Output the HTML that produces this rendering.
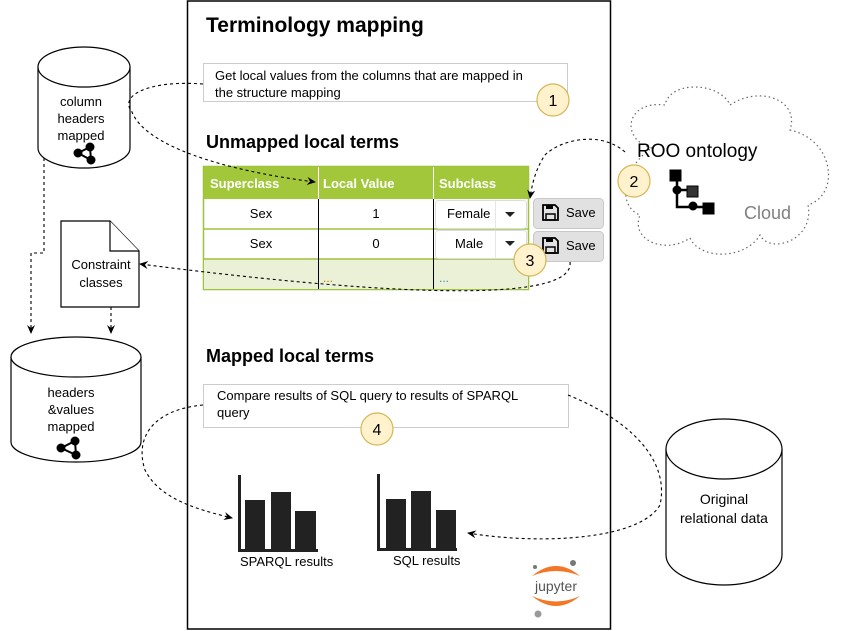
<!DOCTYPE html>
<html><head><meta charset="utf-8"><style>
html,body{margin:0;padding:0;background:#fff;}
svg{display:block;font-family:"Liberation Sans",Arial,sans-serif;}
</style></head><body>
<svg width="844" height="631" viewBox="0 0 844 631" xmlns="http://www.w3.org/2000/svg">
<defs>
<marker id="ar" markerWidth="10" markerHeight="10" refX="8" refY="5" orient="auto" markerUnits="userSpaceOnUse"><path d="M0,1 L9,5 L0,9 L3,5 Z" fill="#000"/></marker>
</defs>
<rect x="187.5" y="1" width="423" height="628" fill="#fff" stroke="#000" stroke-width="1.5"/>
<text x="206" y="32" font-size="21" font-weight="bold">Terminology mapping</text>
<rect x="203.5" y="63.5" width="364" height="38" fill="#fff" stroke="#ccc"/>
<text x="215" y="80" font-size="13">Get local values from the columns that are mapped in</text>
<text x="215" y="97" font-size="13">the structure mapping</text>
<text x="206" y="148" font-size="18" font-weight="bold">Unmapped local terms</text>
<rect x="203.5" y="166.5" width="325" height="123" fill="#fff" stroke="#9dc33b" stroke-width="1.5"/>
<rect x="204" y="167" width="324" height="32" fill="#a2c73b"/>
<rect x="204" y="259" width="324" height="30" fill="#ebf1d7"/>
<line x1="204" y1="229" x2="528" y2="229" stroke="#9dc33b" stroke-width="1.5"/>
<line x1="204" y1="259" x2="528" y2="259" stroke="#9dc33b" stroke-width="1.5"/>
<line x1="318.5" y1="199" x2="318.5" y2="289" stroke="#000"/>
<line x1="433.5" y1="199" x2="433.5" y2="289" stroke="#000"/>
<line x1="318.5" y1="167" x2="318.5" y2="199" stroke="#fff"/>
<line x1="433.5" y1="167" x2="433.5" y2="199" stroke="#fff"/>
<text x="210" y="188" font-size="13" font-weight="bold" fill="#fff">Superclass</text>
<text x="323" y="188" font-size="13" font-weight="bold" fill="#fff">Local Value</text>
<text x="439" y="188" font-size="13" font-weight="bold" fill="#fff">Subclass</text>
<text x="261" y="218" font-size="13" text-anchor="middle">Sex</text>
<text x="376" y="218" font-size="13" text-anchor="middle">1</text>
<text x="261" y="248" font-size="13" text-anchor="middle">Sex</text>
<text x="376" y="248" font-size="13" text-anchor="middle">0</text>
<text x="323" y="282" font-size="12" fill="#c08000">...</text>
<text x="439" y="282" font-size="12" fill="#3a8fb0">...</text>
<rect x="435.5" y="200.5" width="91" height="28" rx="3" fill="#fff" stroke="#ddd"/>
<line x1="495.5" y1="201" x2="495.5" y2="228" stroke="#e6e6e6"/>
<text x="447" y="218" font-size="13">Female</text>
<path d="M505,212 L515,212 L510,217 Z" fill="#222"/>
<rect x="435.5" y="230.5" width="91" height="28" rx="3" fill="#fff" stroke="#ddd"/>
<line x1="495.5" y1="231" x2="495.5" y2="258" stroke="#e6e6e6"/>
<text x="455" y="248" font-size="13">Male</text>
<path d="M505,241 L515,241 L510,246 Z" fill="#222"/>
<g>
<rect x="533.5" y="198.5" width="70" height="30" rx="4" fill="#e1e1e1" stroke="#c8c8c8"/>
<path d="M543,205 h12 l3,3 v12 h-15 Z" fill="none" stroke="#000" stroke-width="1.8"/>
<rect x="546" y="205" width="7" height="4" fill="#000"/><rect x="546" y="214" width="9" height="6" fill="none" stroke="#000" stroke-width="1.5"/>
<text x="566" y="217" font-size="13">Save</text>
<rect x="533.5" y="231.5" width="70" height="30" rx="4" fill="#e1e1e1" stroke="#c8c8c8"/>
<path d="M543,238 h12 l3,3 v12 h-15 Z" fill="none" stroke="#000" stroke-width="1.8"/>
<rect x="546" y="238" width="7" height="4" fill="#000"/><rect x="546" y="247" width="9" height="6" fill="none" stroke="#000" stroke-width="1.5"/>
<text x="566" y="250" font-size="13">Save</text>
</g>
<text x="206" y="362" font-size="18" font-weight="bold">Mapped local terms</text>
<rect x="203.5" y="384.5" width="365" height="43" fill="#fff" stroke="#ccc"/>
<text x="217" y="400" font-size="13">Compare results of SQL query to results of SPARQL</text>
<text x="217" y="417" font-size="13">query</text>
<g fill="#222">
<rect x="238" y="475" width="3" height="77"/>
<rect x="245" y="500" width="20" height="49"/><rect x="271" y="492" width="20" height="57"/><rect x="295" y="511" width="21" height="38"/>
<rect x="377" y="474" width="3" height="77"/><rect x="377" y="548" width="80" height="3"/>
<rect x="386" y="499" width="20" height="49"/><rect x="411" y="491" width="20" height="57"/><rect x="436" y="510" width="20" height="38"/>
<rect x="238" y="549" width="80" height="3"/>
</g>
<text x="240" y="566" font-size="13">SPARQL results</text>
<text x="393" y="565" font-size="13">SQL results</text>
<g>
<path d="M532,576 Q556,556 580,576 Q556,566 532,576 Z" fill="#f37726"/>
<path d="M532,596 Q556,616 580,596 Q556,607 532,596 Z" fill="#f37726"/>
<text x="556" y="591" font-size="14" text-anchor="middle" fill="#555">jupyter</text>
<circle cx="535" cy="567" r="2" fill="#777"/><circle cx="573" cy="563" r="3" fill="#777"/><circle cx="538" cy="614" r="3.5" fill="#999"/>
</g>
<g fill="#fff" stroke="#000" stroke-width="1.2">
<path d="M38,67 A46,20 0 0 1 130,67 V148 A46,20 0 0 1 38,148 Z"/>
<path d="M38,67 A46,20 0 0 0 130,67"/>
<path d="M11,357 A65,20 0 0 1 141,357 V442 A65,20 0 0 1 11,442 Z"/>
<path d="M11,357 A65,20 0 0 0 141,357"/>
<path d="M666,449 A58,30 0 0 1 782,449 V555 A58,30 0 0 1 666,555 Z"/>
<path d="M666,449 A58,30 0 0 0 782,449"/>
<path d="M61,221 H110 L139,251 V307 H61 Z"/>
<path d="M110,221 V251 H139"/>
</g>
<g font-size="13" text-anchor="middle">
<text x="81" y="106">column</text><text x="81" y="123">headers</text><text x="81" y="140">mapped</text>
<text x="71" y="397">headers</text><text x="71" y="414">&amp;values</text><text x="71" y="431">mapped</text>
<text x="101" y="269">Constraint</text><text x="101" y="287">classes</text>
<text x="724" y="504" font-size="14">Original</text><text x="724" y="523" font-size="14">relational data</text>
</g>
<g stroke="#000" stroke-width="2" fill="#000">
<path d="M78,153 L90,147 L91,160 Z" fill="none"/><circle cx="78" cy="153" r="3.5"/><circle cx="90" cy="147" r="3.5"/><circle cx="91" cy="160" r="3.5"/>
<path d="M61,448 L75,441 L76,455 Z" fill="none"/><circle cx="61" cy="448" r="3.5"/><circle cx="75" cy="441" r="3.5"/><circle cx="76" cy="455" r="3.5"/>
</g>
<path d="M652,148 C620,140 625,100 665,105 C670,80 720,82 730,105 C760,85 800,100 790,130 C835,140 840,195 808,205 C815,240 770,255 760,235 C745,260 700,260 690,238 C665,255 630,240 640,215 C615,205 625,165 652,148 Z" fill="#fff" stroke="#666" stroke-dasharray="1.5,3" stroke-width="1.2"/>
<text x="637" y="157" font-size="19">ROO ontology</text>
<text x="744" y="219" font-size="18" fill="#808080">Cloud</text>
<g fill="#000" stroke="#000">
<rect x="670" y="170" width="11" height="11"/><rect x="687" y="186" width="11" height="11" fill="#333"/><rect x="703" y="203" width="11" height="11"/>
<path d="M677,181 V207 H703 M677,190 H687" fill="none" stroke-width="2.5"/>
<circle cx="677" cy="190" r="4"/><circle cx="693" cy="206" r="4"/>
</g>
<g fill="#fff2cc" stroke="#d6b656" stroke-width="1.2">
<circle cx="553" cy="100" r="16"/><circle cx="634" cy="181" r="16"/><circle cx="530" cy="260" r="16"/><circle cx="377" cy="429" r="16"/>
</g>
<g font-size="16" text-anchor="middle">
<text x="553" y="106">1</text><text x="634" y="187">2</text><text x="530" y="266">3</text><text x="377" y="435">4</text>
</g>
<g fill="none" stroke="#000" stroke-dasharray="3,3" stroke-width="1.1">
<path d="M203,84 C150,80 118,95 132,112 C145,145 220,170 315,182" marker-end="url(#ar)"/>
<path d="M625,152 C600,130 560,140 545,155 C535,170 532,185 530,198" marker-end="url(#ar)"/>
<path d="M570,262 C575,300 420,300 140,264" marker-end="url(#ar)"/>
<path d="M44,158 V253 H31 V333" marker-end="url(#ar)"/>
<path d="M111,307 V333" marker-end="url(#ar)"/>
<path d="M203,405 C150,410 135,440 145,470 C160,500 200,510 232,518" marker-end="url(#ar)"/>
<path d="M568,395 C630,420 670,460 660,505 C640,540 540,545 468,533" marker-end="url(#ar)"/>
</g>
</svg>
</body></html>
